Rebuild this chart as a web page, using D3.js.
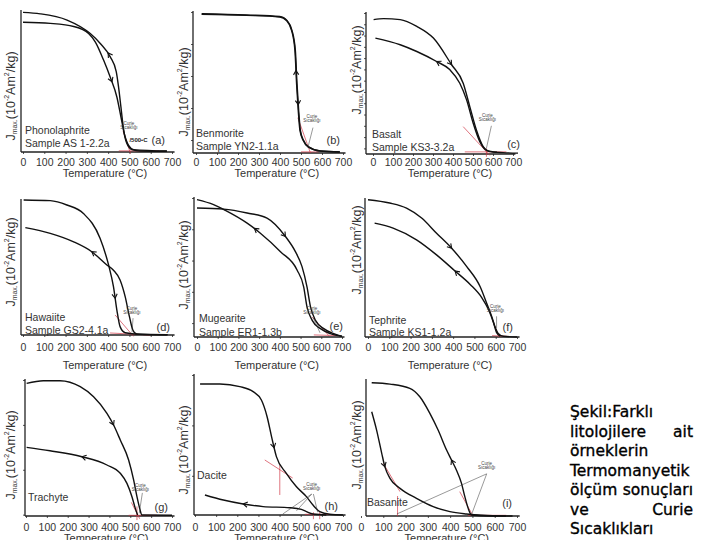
<!DOCTYPE html>
<html>
<head>
<meta charset="utf-8">
<script src="https://cdn.jsdelivr.net/npm/d3@7"></script>
<style>
body { margin: 0; background: #fff; }
svg { display: block; font-family: "Liberation Sans", Arial, sans-serif; }
</style>
</head>
<body>
<svg id="chart" width="720" height="540"></svg>
<script>
// panels (a)..(i), rock type and sample
var panelIds = ["a", "b", "c", "d", "e", "f", "g", "h", "i"];
var rockNames = ["Phonolaphrite", "Benmorite", "Basalt", "Hawaiite", "Mugearite", "Tephrite", "Trachyte", "Dacite", "Basanite"];
var sampleNames = ["Sample AS 1-2.2a", "Sample YN2-1.1a", "Sample KS3-3.2a", "Sample GS2-4.1a", "Sample ER1-1.3b", "Sample KS1-1.2a", "", "", ""];
var tempTicks = [0, 100, 200, 300, 400, 500, 600, 700];

// [temperature °C, Jmax in % of panel height]
var aHeat = [[0,92],[128,91.2],[238,89],[308,84],[340,78],[379,65],[410,53],[441,39],[460,25],[476,13],[496,4.7],[520,1.7],[676,0.7]];
var aCool = [[0,99],[81,98],[207,93.6],[316,84],[363,77],[410,67.5],[438,57],[449,46],[460,32],[473,15.4],[488,6],[512,1.7],[551,0.7],[676,0.5]];
var bHeat = [[27,98.8],[241,97.9],[399,96.8],[433,94],[457,87],[473,73],[481,49],[489,30],[497,16],[512,9],[536,4.3],[592,1.4],[685,0.7]];
var bCool = [[27,98.3],[241,97.6],[399,96.5],[431,94],[455,87],[471,73],[479,49],[487,30],[495,16],[510,9],[534,4.3],[590,1.4],[685,0.7]];
var cHeat = [[3,95.3],[53,96],[136,95.3],[219,90.5],[302,82.2],[393,63.3],[451,50.2],[484,33.6],[517,17],[551,5.2],[584,1.7],[650,1],[725,0.6]];
var cCool = [[12,82.2],[136,77.5],[219,72.7],[318,65.6],[385,59.7],[434,50.2],[468,38.4],[501,21.8],[534,8.8],[567,2.8],[620,1.2]];
var dHeat = [[3,100],[128,99.5],[206,96.3],[284,90],[362,71.6],[402,51.9],[425,35.8],[441,18.5],[456,6.2],[480,1.7],[550,0.5],[680,0.2]];
var dCool = [[11,79.5],[128,75.3],[238,69],[323,61.7],[394,51.9],[425,48],[456,40.7],[480,28.4],[500,13.6],[516,3.7],[534,0.7],[675,0.2]];
var eHeat = [[0,92.8],[129,92],[242,89.2],[338,85.5],[427,72.3],[475,61.4],[507,50.6],[531,36.1],[548,21.7],[572,12],[612,6],[660,2.4],[700,0.5]];
var eCool = [[0,98.8],[80,95.2],[137,91.1],[242,81.9],[306,74.7],[403,61.4],[483,48.2],[515,36.1],[531,21.7],[556,12],[596,6],[644,2.4],[700,0.5]];
var fHeat = [[0,99.5],[102,97.1],[181,93.4],[252,86.2],[322,75.2],[393,64.3],[464,51],[527,36.4],[558,24.3],[582,14.6],[597,7.3],[613,2.4],[637,0.5],[700,0]];
var fCool = [[31,82.5],[118,78.9],[228,70.4],[322,59.5],[409,47.8],[480,38.1],[535,28.4],[566,19.9],[590,10.2],[605,2.9],[621,0.7]];
var gHeat = [[3,97.5],[83,99.5],[163,99.5],[260,95.1],[324,87.7],[388,75.5],[420,66.9],[452,55.9],[492,41.2],[516,26.5],[532,14.2],[545,5.6],[556,0.7],[700,0.5]];
var gCool = [[3,50.5],[115,48],[268,43.6],[388,37.5],[452,31.4],[484,24],[508,14.2],[524,5.6],[535,0.7]];
var hHeat = [[24,93.6],[118,93.6],[212,91.7],[275,88.1],[314,82.1],[341,70.2],[362,56],[385,41.7],[432,29.8],[480,20.2],[527,13.1],[558,7.1],[590,2.4],[637,0.5],[700,0]];
var hCool = [[47,14.3],[134,10.7],[228,7.9],[322,6],[448,5.2],[503,4],[527,2.4],[558,0.7],[621,0]];
var iHeat = [[48,76.7],[70,63.2],[93,46.1],[107,36.3],[130,27.7],[175,20.3],[249,13],[324,6.9],[399,3.2],[473,1.5],[548,0.5],[650,0]];
var iCool = [[48,98],[130,97],[219,93.9],[264,87.7],[309,75.5],[346,63.2],[384,48.5],[406,41.2],[428,33.8],[451,24],[466,14.2],[481,5.6],[496,0.7],[578,0],[680,0]];

var heatSeries = [aHeat, bHeat, cHeat, dHeat, eHeat, fHeat, gHeat, hHeat, iHeat];
var coolSeries = [aCool, bCool, cCool, dCool, eCool, fCool, gCool, hCool, iCool];
// temperature where the direction arrow sits
var heatArrowT = [418, 487, 393, 433, 427, 393, 420, 374, 107];
var coolArrowT = [400, 476, 318, 323, 277, 409, 268, 228, 406];

// red Curie construction lines, [[T,J],[T,J]]
var curieLines = [
  [[[470,15],[505,-1]], [[450,0.8],[640,0.8]]],
  [[[485,25],[545,0]], [[500,0.8],[585,0.8]]],
  [[[451,19.4],[584,-1]], [[459,1.5],[667,1.5]], [[567,4],[567,-2]]],
  [[[433,14.8],[519,-1]], [[409,1.5],[597,0]]],
  [[[556,14.5],[636,1]], [[564,1.5],[676,1]]],
  [[[583,1],[654,0.5]], [[590,10],[615,0]]],
  [[[532,7],[532,-3]], [[492,0.5],[628,0.5]], [[505,10],[545,-2]]],
  [[[330,39.3],[462,26.4]], [[401,35.7],[401,14.3]], [[519,0.5],[637,0.5]], [[560,2],[560,-3]], [[590,2],[590,-3]]],
  [[[100,38.7],[175,17.9]], [[164,14.7],[164,0]], [[443,17.9],[503,0]], [[480,0.5],[652,0.5]]]
];
// "Curie Sıcaklığı" note and its pointer lines
var curieNoteAt = [[498,19],[552,25],[572,26],[512,18.5],[555,19.5],[599,21],[548,21],[552,21],[564,37.5]];
var curieNoteLines = [
  [],
  [[[557,18],[533,4]]],
  [[[592,20],[567,4]]],
  [[[517,12.5],[512,2]]],
  [[[560,14],[594,3]]],
  [[[604,15],[604,6.5]]],
  [[[558,17],[543,2]]],
  [[[552,15],[415,0.7]], [[552,15],[480,3]], [[560,15],[580,2]]],
  [[[564,31],[161,1.5]], [[564,31],[497,1.5]]]
];
var curieValues = [500, null, null, null, null, null, null, null, null];

var captionLines = [["Şekil:Farklı"], ["litolojilere", "ait"], ["örneklerin"], ["Termomanyetik"], ["ölçüm", "sonuçları"], ["ve", "Curie"], ["Sıcaklıkları"]];

// pixel frame of each panel
var frames = [
  {x0:23,  x1:172, ax:21,  top:11,  bottom:152, nameX:25,  nameY:134, sampleY:147, labelX:11,  labelY:96,  yStep:0,    letterX:165, letterY:144},
  {x0:196, x1:343, ax:193, top:12,  bottom:153, nameX:196, nameY:137, sampleY:150, labelX:184, labelY:92,  yStep:22.7, letterX:340, letterY:144},
  {x0:373, x1:513, ax:366, top:13,  bottom:154, nameX:372, nameY:138, sampleY:151, labelX:357, labelY:70,  yStep:8,    letterX:520, letterY:148},
  {x0:23,  x1:172, ax:21,  top:200, bottom:335, nameX:25,  nameY:321, sampleY:334, labelX:11,  labelY:262, yStep:0,    letterX:170, letterY:331},
  {x0:197, x1:342, ax:194, top:198, bottom:337, nameX:199, nameY:322, sampleY:336, labelX:184, labelY:265, yStep:22.5, letterX:343, letterY:330},
  {x0:368, x1:517, ax:365, top:199, bottom:337, nameX:369, nameY:324, sampleY:336, labelX:357, labelY:250, yStep:0,    letterX:513, letterY:331},
  {x0:26,  x1:172, ax:25,  top:380, bottom:516, nameX:28,  nameY:501, sampleY:0,   labelX:11,  labelY:455, yStep:33,   letterX:168, letterY:511},
  {x0:195, x1:343, ax:194, top:375, bottom:515, nameX:197, nameY:479, sampleY:0,   labelX:184, labelY:450, yStep:36,   letterX:338, letterY:510},
  {x0:361, x1:517, ax:366, top:380, bottom:516, nameX:367, nameY:506, sampleY:0,   labelX:357, labelY:445, yStep:0,    letterX:512, letterY:507}
];
var tickLabelY = [166, 351, 531];
var titleY = [177, 369, 542];

var svg = d3.select("#chart");

function arrowOn(g, path, xAt, dir) {
  var node = path.node(), total = node.getTotalLength();
  var lo = 0, hi = total;
  for (var k = 0; k < 30; k++) {
    var mid = (lo + hi) / 2;
    if (node.getPointAtLength(mid).x < xAt) lo = mid; else hi = mid;
  }
  var p = node.getPointAtLength(lo);
  var q = node.getPointAtLength(Math.max(0, Math.min(total, lo + 3 * dir)));
  var ang = Math.atan2(q.y - p.y, q.x - p.x);
  var len = 5, spread = 0.55;
  var d = "M" + (p.x - len * Math.cos(ang - spread)) + "," + (p.y - len * Math.sin(ang - spread)) +
          "L" + p.x + "," + p.y +
          "L" + (p.x - len * Math.cos(ang + spread)) + "," + (p.y - len * Math.sin(ang + spread));
  g.append("path").attr("d", d).attr("fill", "none").attr("stroke", "#111").attr("stroke-width", 1.1);
}

panelIds.forEach(function(id, i) {
  var f = frames[i];
  var row = Math.floor(i / 3);
  var x = d3.scaleLinear().domain([0, 700]).range([f.x0, f.x1]);
  var y = d3.scaleLinear().domain([0, 100]).range([f.bottom, f.top]);
  var g = svg.append("g").attr("class", "panel panel-" + id);

  // x axis ticks and labels
  var xAxis = g.append("g").attr("transform", "translate(0," + f.bottom + ")")
    .call(d3.axisBottom(x).tickValues(tempTicks).tickSize(2).tickFormat(d3.format("d")));
  xAxis.select(".domain").remove();
  xAxis.selectAll("line").attr("stroke", "#555");
  xAxis.selectAll("text")
    .attr("y", tickLabelY[row] - f.bottom).attr("dy", 0)
    .attr("font-size", 10.5).attr("font-family", "'Liberation Sans', Arial, sans-serif").attr("fill", "#333");

  // y axis minor ticks
  if (f.yStep > 0) {
    var yAxis = g.append("g").attr("transform", "translate(" + f.ax + ",0)")
      .call(d3.axisLeft(y).tickValues(d3.range(100, 0, -f.yStep)).tickSize(2).tickFormat(""));
    yAxis.select(".domain").remove();
    yAxis.selectAll("line").attr("stroke", "#555");
  }

  // axis lines
  g.append("line").attr("x1", f.ax).attr("x2", f.ax).attr("y1", f.top - 1).attr("y2", f.bottom)
    .attr("stroke", "#222").attr("stroke-width", 1.3);
  g.append("line").attr("x1", f.ax).attr("x2", x(712)).attr("y1", f.bottom).attr("y2", f.bottom)
    .attr("stroke", "#222").attr("stroke-width", 1.3);

  // axis titles
  g.append("text").attr("x", x(385)).attr("y", titleY[row]).attr("text-anchor", "middle")
    .attr("font-size", 11).attr("fill", "#333").text("Temperature (°C)");

  var yl = g.append("text").attr("transform", "translate(" + f.labelX + "," + f.labelY + ") rotate(-90)")
    .attr("text-anchor", "middle").attr("dominant-baseline", "central")
    .attr("font-size", 12.5).attr("fill", "#333");
  yl.append("tspan").text("J");
  yl.append("tspan").attr("font-size", 7).attr("dy", 3).text("max.");
  yl.append("tspan").attr("dy", -3).text("(10");
  yl.append("tspan").attr("font-size", 7).attr("dy", -5).text("-2");
  yl.append("tspan").attr("dy", 5).text("Am");
  yl.append("tspan").attr("font-size", 7).attr("dy", -5).text("2");
  yl.append("tspan").attr("dy", 5).text("/kg)");

  // red Curie construction
  curieLines[i].forEach(function(seg) {
    g.append("line")
      .attr("x1", x(seg[0][0])).attr("y1", y(seg[0][1]))
      .attr("x2", x(seg[1][0])).attr("y2", y(seg[1][1]))
      .attr("stroke", "#d03040").attr("stroke-width", 0.9).attr("stroke-opacity", 0.75);
  });

  // curves
  var line = d3.line().x(function(d) { return x(d[0]); }).y(function(d) { return y(d[1]); })
    .curve(d3.curveMonotoneX);
  var heat = g.append("path").datum(heatSeries[i]).attr("d", line)
    .attr("fill", "none").attr("stroke", "#111").attr("stroke-width", 1.4);
  var cool = g.append("path").datum(coolSeries[i]).attr("d", line)
    .attr("fill", "none").attr("stroke", "#111").attr("stroke-width", 1.4);
  arrowOn(g, heat, x(heatArrowT[i]), 1);
  arrowOn(g, cool, x(coolArrowT[i]), -1);

  // Curie note
  var at = curieNoteAt[i];
  var note = g.append("text").attr("x", x(at[0])).attr("y", y(at[1]))
    .attr("text-anchor", "middle").attr("font-size", 4.5).attr("fill", "#444");
  note.append("tspan").text("Curie");
  note.append("tspan").attr("x", x(at[0])).attr("dy", 4).text("Sıcaklığı");
  curieNoteLines[i].forEach(function(seg) {
    g.append("line")
      .attr("x1", x(seg[0][0])).attr("y1", y(seg[0][1]))
      .attr("x2", x(seg[1][0])).attr("y2", y(seg[1][1]))
      .attr("stroke", "#333").attr("stroke-width", 0.5);
  });
  if (curieValues[i] !== null) {
    g.append("text").attr("x", x(curieValues[i])).attr("y", y(7))
      .attr("font-size", 6).attr("font-weight", "bold").attr("fill", "#222")
      .text("/" + curieValues[i] + "•C");
  }

  // rock / sample names and panel letter
  g.append("text").attr("x", f.nameX).attr("y", f.nameY).attr("font-size", 10.5).attr("fill", "#333").text(rockNames[i]);
  if (sampleNames[i]) {
    g.append("text").attr("x", f.nameX).attr("y", f.sampleY).attr("font-size", 10.5).attr("fill", "#333").text(sampleNames[i]);
  }
  g.append("text").attr("x", f.letterX).attr("y", f.letterY).attr("text-anchor", "end")
    .attr("font-size", 11).attr("fill", "#333").text("(" + id + ")");
});

// caption at the right, justified
var cap = svg.append("g").attr("class", "caption")
  .attr("font-family", "'DejaVu Sans', sans-serif").attr("font-size", 15.5)
  .attr("fill", "#000").attr("stroke", "#000").attr("stroke-width", 0.35);
captionLines.forEach(function(words, k) {
  var yy = 417 + k * 19.5;
  cap.append("text").attr("x", 570).attr("y", yy).text(words[0]);
  if (words.length > 1) {
    cap.append("text").attr("x", 693).attr("y", yy).attr("text-anchor", "end").text(words[1]);
  }
});
</script>
</body>
</html>
